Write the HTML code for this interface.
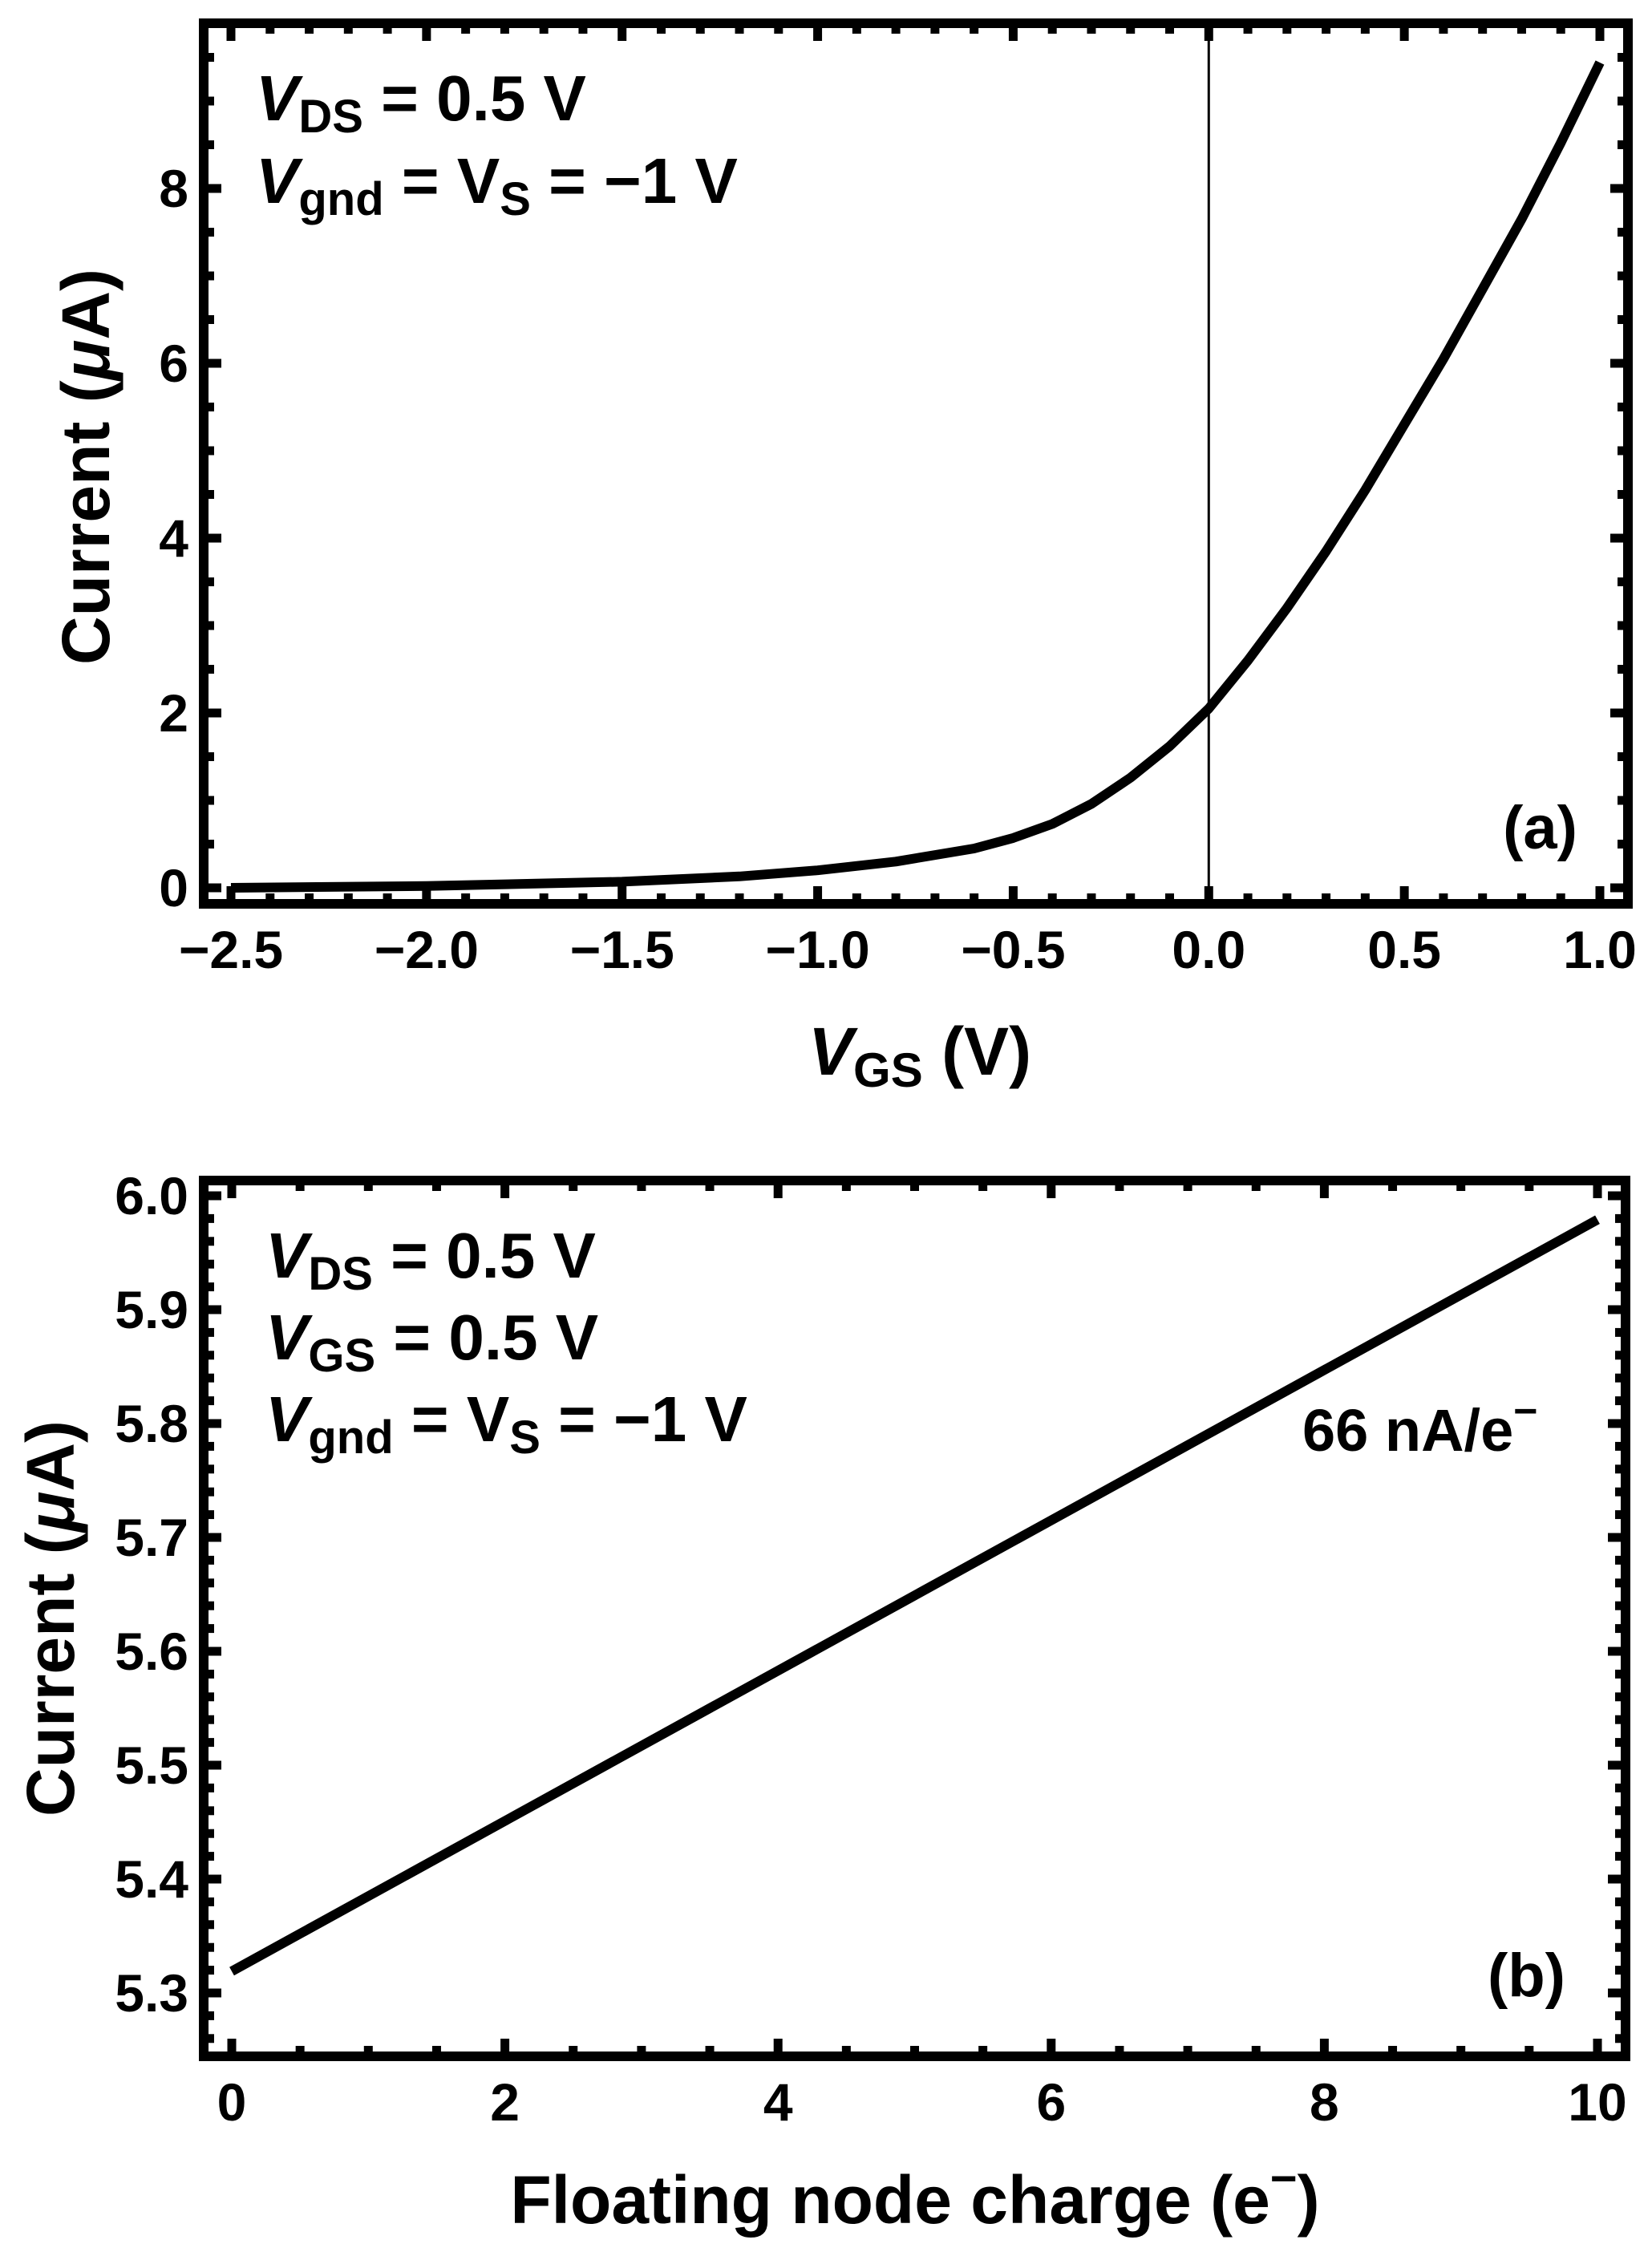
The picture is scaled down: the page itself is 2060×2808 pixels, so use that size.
<!DOCTYPE html>
<html><head><meta charset="utf-8">
<style>
html,body{margin:0;padding:0;background:#fff;}
svg{display:block;}
text{font-family:"Liberation Sans",Arial,sans-serif;font-weight:bold;fill:#000;}
</style></head>
<body>
<svg id="fig" width="2060" height="2808" viewBox="0 0 2060 2808" xmlns="http://www.w3.org/2000/svg">
  <g id="pa"></g>
  <g id="pb"></g>
  <!-- panel a text -->
  <text x="319" y="150" font-size="80"><tspan font-style="italic">V</tspan><tspan font-size="58" dy="15">DS</tspan><tspan dy="-15"> = 0.5 V</tspan></text>
  <text x="319" y="253" font-size="80"><tspan font-style="italic">V</tspan><tspan font-size="58" dy="15">gnd</tspan><tspan dy="-15"> = V</tspan><tspan font-size="58" dy="15">S</tspan><tspan dy="-15"> = −1 V</tspan></text>
  <text x="1967" y="1058" font-size="76" text-anchor="end">(a)</text>
  <text x="107" y="582" font-size="84" text-anchor="middle" transform="rotate(-90 107 582)" dy="29">Current (<tspan font-style="italic">μ</tspan>A)</text>
  <text x="1008" y="1340" font-size="84"><tspan font-style="italic">V</tspan><tspan font-size="60" dy="15">GS</tspan><tspan dy="-15"> (V)</tspan></text>
  <!-- panel b text -->
  <text x="331" y="1593" font-size="80"><tspan font-style="italic">V</tspan><tspan font-size="58" dy="15">DS</tspan><tspan dy="-15"> = 0.5 V</tspan></text>
  <text x="331" y="1695" font-size="80"><tspan font-style="italic">V</tspan><tspan font-size="58" dy="15">GS</tspan><tspan dy="-15"> = 0.5 V</tspan></text>
  <text x="331" y="1797" font-size="80"><tspan font-style="italic">V</tspan><tspan font-size="58" dy="15">gnd</tspan><tspan dy="-15"> = V</tspan><tspan font-size="58" dy="15">S</tspan><tspan dy="-15"> = −1 V</tspan></text>
  <text x="1624" y="1809" font-size="74">66 nA/e<tspan font-size="52" dy="-32">−</tspan></text>
  <text x="1952" y="2489" font-size="76" text-anchor="end">(b)</text>
  <text x="63" y="2018" font-size="84" text-anchor="middle" transform="rotate(-90 63 2018)" dy="29">Current (<tspan font-style="italic">μ</tspan>A)</text>
  <text x="1141" y="2772" font-size="84" text-anchor="middle">Floating node charge (e<tspan font-size="58" dy="-36">−</tspan><tspan dy="36">)</tspan></text>
</svg>
<script>
// Panel (a) data
const aVgs = [-2.5,-2.0,-1.5,-1.2,-1.0,-0.8,-0.6,-0.5,-0.4,-0.3,-0.2,-0.1,0.0,0.1,0.2,0.3,0.4,0.5,0.6,0.7,0.8,0.9,1.0];
const aCurrent = [0.0,0.02,0.07,0.13,0.2,0.3,0.45,0.57,0.73,0.96,1.26,1.62,2.05,2.6,3.2,3.85,4.55,5.3,6.05,6.85,7.65,8.52,9.44];
const aXTicks = [-2.5,-2.0,-1.5,-1.0,-0.5,0.0,0.5,1.0];
const aXTickLabels = ["−2.5","−2.0","−1.5","−1.0","−0.5","0.0","0.5","1.0"];
const aYTicks = [0,2,4,6,8];
const aYTickLabels = ["0","2","4","6","8"];
// Panel (b) data
const bCharge = [0,10];
const bCurrent = [5.319,5.979];
const bXTicks = [0,2,4,6,8,10];
const bXTickLabels = ["0","2","4","6","8","10"];
const bYTicks = [5.3,5.4,5.5,5.6,5.7,5.8,5.9,6.0];
const bYTickLabels = ["5.3","5.4","5.5","5.6","5.7","5.8","5.9","6.0"];

const NS="http://www.w3.org/2000/svg";
function mk(parent,tag,attrs){const e=document.createElementNS(NS,tag);for(const k in attrs)e.setAttribute(k,attrs[k]);parent.appendChild(e);return e;}

function panel(g,cfg){
  const {L,R,T,B,x0v,x0p,x1v,x1p,y0v,y0p,y1v,y1p}=cfg;
  const sx=v=>x0p+(v-x0v)*(x1p-x0p)/(x1v-x0v);
  const sy=v=>y0p+(v-y0v)*(y1p-y0p)/(y1v-y0v);
  const inv=p=>x0v+(p-x0p)*(x1v-x0v)/(x1p-x0p);
  const invy=p=>y0v+(p-y0p)*(y1v-y0v)/(y1p-y0p);
  const ticks=mk(g,'g',{});
  
  
  const xmin=inv(L), xmax=inv(R);
  for(let k=Math.ceil(xmin/cfg.xMinor-1e-6);k*cfg.xMinor<=xmax+1e-9;k++){
    const v=k*cfg.xMinor; const x=sx(v); if(x<L+4||x>R-4) continue;
    const major=cfg.xTicks.some(t=>Math.abs(t-v)<1e-6); const len=major?16:7;
    mk(ticks,'line',{x1:x,x2:x,y1:B,y2:B-6-len,stroke:'#000','stroke-width':11});
    mk(ticks,'line',{x1:x,x2:x,y1:T,y2:T+6+len,stroke:'#000','stroke-width':11});
  }
  const ylo=invy(B), yhi=invy(T);
  for(let k=Math.ceil(ylo/cfg.yMinor-1e-6);k*cfg.yMinor<=yhi+1e-9;k++){
    const v=k*cfg.yMinor; const y=sy(v); if(y<T+4||y>B-4) continue;
    const major=cfg.yTicks.some(t=>Math.abs(t-v)<1e-6); const len=major?16:7;
    mk(ticks,'line',{x1:L,x2:L+6+len,y1:y,y2:y,stroke:'#000','stroke-width':11});
    mk(ticks,'line',{x1:R,x2:R-6-len,y1:y,y2:y,stroke:'#000','stroke-width':11});
  }
  if(cfg.vline!==undefined){
    const vl=mk(g,'line',{x1:sx(cfg.vline),x2:sx(cfg.vline),y1:T,y2:B,stroke:'#000','stroke-width':3});
    
    
  }
  const pts=cfg.xs.map((v,i)=>sx(v).toFixed(1)+','+sy(cfg.ys[i]).toFixed(1));
  const pl=mk(g,'polyline',{points:pts.join(' '),fill:'none',stroke:'#000','stroke-width':12,'stroke-linejoin':'round'});
  
  
  const fr=mk(g,'rect',{x:L,y:T,width:R-L,height:B-T,fill:'none',stroke:'#000','stroke-width':12});
  
  
  cfg.xTicks.forEach((v,i)=>{
    const t=mk(g,'text',{x:sx(v),y:B+80,'font-size':66,'text-anchor':'middle'});
    t.textContent=cfg.xLabels[i];
    
    
  });
  cfg.yTicks.forEach((v,i)=>{
    const t=mk(g,'text',{x:235,y:sy(v)+23,'font-size':66,'text-anchor':'end'});
    t.textContent=cfg.yLabels[i];
    
    
  });
}

panel(document.getElementById('pa'),{L:254,R:2030,T:29,B:1127,
  x0v:-2.5,x0p:288,x1v:1.0,x1p:1995,y0v:0,y0p:1107,y1v:8,y1p:235,
  xMinor:0.1,yMinor:0.5,xTicks:aXTicks,xLabels:aXTickLabels,yTicks:aYTicks,yLabels:aYTickLabels,
  xs:aVgs,ys:aCurrent,vline:0});
panel(document.getElementById('pb'),{L:254,R:2027,T:1472,B:2564,
  x0v:0,x0p:289,x1v:10,x1p:1992,y0v:5.3,y0p:2485,y1v:6.0,y1p:1491,
  xMinor:0.5,yMinor:0.02,xTicks:bXTicks,xLabels:bXTickLabels,yTicks:bYTicks,yLabels:bYTickLabels,
  xs:bCharge,ys:bCurrent});
</script>
</body></html>
